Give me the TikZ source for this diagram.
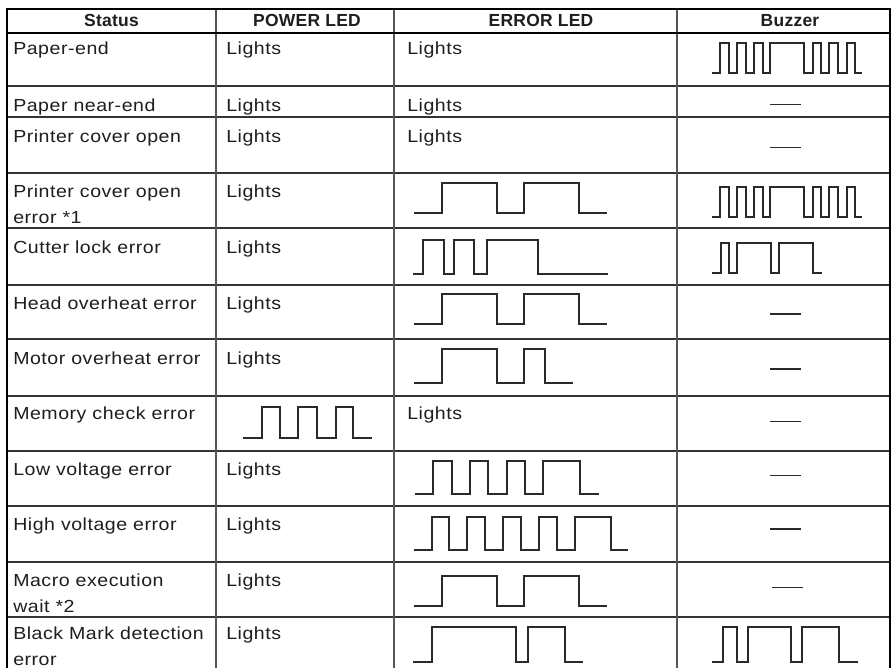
\documentclass[tikz,border=0pt]{standalone}
\usepackage{fontspec}
\setmainfont{Liberation Sans}[FakeStretch=1.12,LetterSpace=3]
\newfontfamily\hdfont{Liberation Sans}[LetterSpace=1.5]
\newcommand\fsz{\fontsize{13.1pt}{19.5pt}\selectfont}
\newcommand\twoline[2]{\begin{tabular}[t]{@{}l@{}}#1\\#2\end{tabular}}
\definecolor{txt}{HTML}{1E1E1E}
\definecolor{wv}{HTML}{2A2A2A}
\definecolor{rl}{HTML}{333333}
\definecolor{cl}{HTML}{555555}
\begin{document}
\begin{tikzpicture}[x=0.75pt,y=-0.75pt,
  cell/.style={anchor=base west,inner sep=0pt,text=txt,font=\fsz},
  head/.style={anchor=base,inner sep=0pt,text=txt,font=\hdfont\bfseries\fsz},
  wave/.style={draw=wv,line width=0.9pt,line join=miter},
  nodash/.style={draw=wv,line width=1.1pt},
  rowline/.style={draw=rl,line width=1pt},
  colline/.style={draw=cl,line width=1pt},
  outer/.style={draw=black,line width=1.9pt}]
\useasboundingbox (0,0) rectangle (891,667);
\clip (0,0) rectangle (891,667);
\fill[white] (0,0) rectangle (891,667);
% row lines
\foreach \y in {86,117,173,228,285,339,396,451,506,562,617}
  \draw[rowline] (7,\y) -- (890,\y);
% column lines
\foreach \x in {216,394,677}
  \draw[colline] (\x,9) -- (\x,672);
% outer and header lines
\draw[outer] (7,672) -- (7,9) -- (889.8,9) -- (889.8,672);
\draw[draw=black,line width=1.5pt] (7,33) -- (890,33);
% header
\node[head] (hs) at (111.5,27) {Status};
\node[head] (hp) at (307,27) {POWER LED};
\node[head] (he) at (541,27) {ERROR LED};
\node[head] (hb) at (790,27) {Buzzer};
% status column
\node[cell] (s1) at (13,55) {Paper-end};
\node[cell] (s2) at (13,111) {Paper near-end};
\node[cell] (s3) at (13,142) {Printer cover open};
\node[cell] (s4) at (13,197) {\twoline{Printer cover open}{error *1}};
\node[cell] (s5) at (13,253) {Cutter lock error};
\node[cell] (s6) at (13,309) {Head overheat error};
\node[cell] (s7) at (13,364) {Motor overheat error};
\node[cell] (s8) at (13,419) {Memory check error};
\node[cell] (s9) at (13,475) {Low voltage error};
\node[cell] (s10) at (13,530) {High voltage error};
\node[cell] (s11) at (13,586) {\twoline{Macro execution}{wait *2}};
\node[cell] (s12) at (13,639) {\twoline{Black Mark detection}{error}};
% power column
\foreach \n/\y in {1/55,2/111,3/142,4/197,5/253,6/309,7/364,9/475,10/530,11/586,12/639}
  \node[cell] (p\n) at (226,\y) {Lights};
% error column
\foreach \n/\y in {1/55,2/111,3/142,8/419}
  \node[cell] (e\n) at (407,\y) {Lights};
% power LED wave: memory check
\draw[wave] (243,438) -| (262,407) -| (280,438) -| (298,407) -| (317,438) -| (336,407) -| (353,438) -- (372,438);
% error LED waves
\draw[wave] (414,213) -| (442,183) -| (497,213) -| (524,183) -| (579,213) -- (607,213);
\draw[wave] (413,274) -| (423,240) -| (444,274) -| (454,240) -| (474,274) -| (487,240) -| (538,274) -- (608,274);
\draw[wave] (414,324) -| (442,294) -| (497,324) -| (524,294) -| (579,324) -- (607,324);
\draw[wave] (414,383) -| (442,349) -| (497,383) -| (524,349) -| (545,383) -- (573,383);
\draw[wave] (415,494) -| (433,461) -| (452,494) -| (470,461) -| (488,494) -| (507,461) -| (525,494) -| (543,461) -| (580,494) -- (599,494);
\draw[wave] (414,550) -| (432,517) -| (449,550) -| (467,517) -| (485,550) -| (503,517) -| (521,550) -| (539,517) -| (557,550) -| (575,517) -| (611,550) -- (628,550);
\draw[wave] (414,606) -| (442,576) -| (497,606) -| (524,576) -| (579,606) -- (607,606);
\draw[wave] (413,662) -| (432,627) -| (516,662) -| (528,627) -| (565,662) -- (583,662);
% buzzer waves
\draw[wave] (712,73) -| (720,43) -| (729,73) -| (737,43) -| (746,73) -| (754,43) -| (763,73) -| (770,43) -| (804,73) -| (813,43) -| (821,73) -| (829,43) -| (838,73) -| (847,43) -| (855,73) -- (862,73);
\draw[wave] (712,217) -| (720,187) -| (729,217) -| (737,187) -| (746,217) -| (754,187) -| (763,217) -| (770,187) -| (804,217) -| (813,187) -| (821,217) -| (829,187) -| (838,217) -| (847,187) -| (855,217) -- (862,217);
\draw[wave] (712,273) -| (721,243) -| (729,273) -| (737,243) -| (771,273) -| (779,243) -| (813,273) -- (822,273);
\draw[wave] (712,662) -| (723,627) -| (737,662) -| (748,627) -| (791,662) -| (802,627) -| (839,662) -- (858,662);
% buzzer dashes
\foreach \y in {104.7,147.7,314,369,421.7,475.7,529}
  \draw[nodash] (770,\y) -- (801,\y);
\draw[nodash] (772,587.7) -- (803,587.7);
\end{tikzpicture}
\end{document}
